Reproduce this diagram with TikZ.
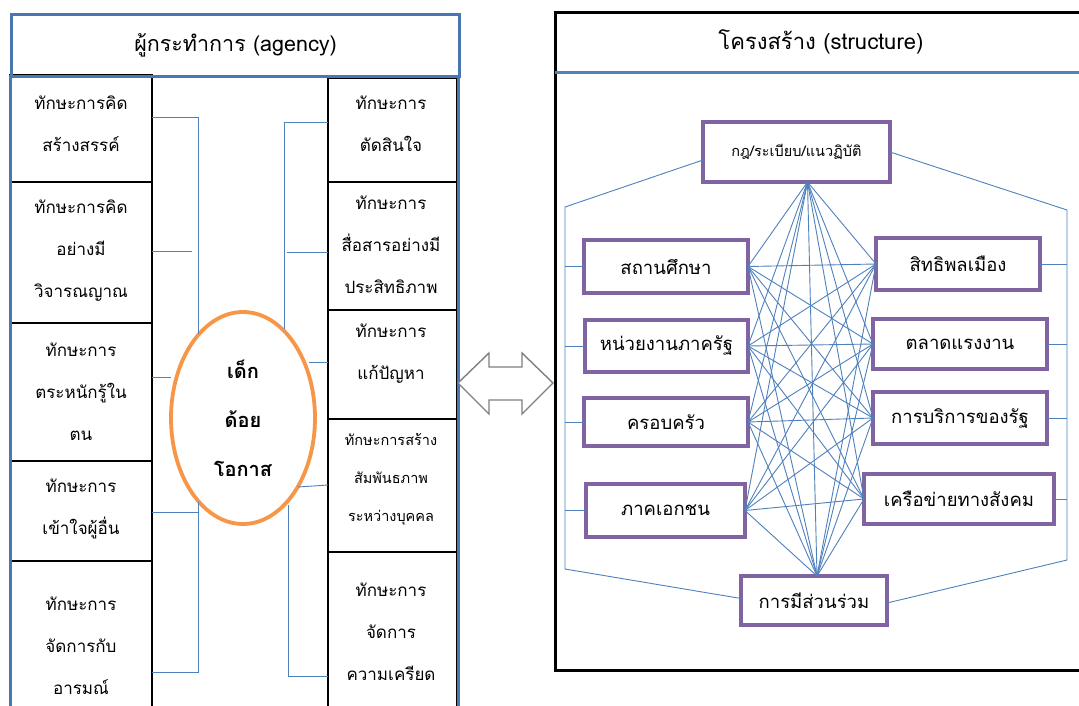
\documentclass[tikz,border=0pt]{standalone}
\usepackage{fontspec}
\setmainfont[Script=Thai]{Loma}
\usetikzlibrary{shapes.geometric}
\definecolor{netblue}{HTML}{4F81BD}
\definecolor{frameblue}{HTML}{4A77B4}
\definecolor{boxpurple}{HTML}{8064A2}
\definecolor{elorange}{HTML}{F79646}
\definecolor{arrgray}{HTML}{7F7F7F}
\begin{document}
\begin{tikzpicture}[x=1pt,y=-1pt,
  net/.style={draw=netblue, line width=0.9pt},
  skillbox/.style={draw=black, line width=1.3pt, rectangle, inner sep=0pt, outer sep=0pt, anchor=north west},
  skilltxt/.style={align=center, inner sep=0pt, font=\fontsize{17}{42}\selectfont},
  smalltxt/.style={align=center, inner sep=0pt, font=\fontsize{14.5}{38}\selectfont},
  framebox/.style={draw=frameblue, line width=3pt},
  structbox/.style={draw=boxpurple, line width=3.2pt, rectangle, inner sep=0pt, outer sep=0pt, fill=white, font=\fontsize{18.5}{22}\selectfont}
]
\useasboundingbox (0,0) rectangle (1079,706);
\fill[white] (0,0) rectangle (1079,706);

% ---------- left panel : agency ----------
\node[skillbox, minimum width=142pt, minimum height=107pt] (L1) at (10,75) {};
\node[skillbox, minimum width=142pt, minimum height=141pt] (L2) at (10,182) {};
\node[skillbox, minimum width=142pt, minimum height=138pt] (L3) at (10,323) {};
\node[skillbox, minimum width=142pt, minimum height=100pt] (L4) at (10,461) {};
\node[skillbox, minimum width=142pt, minimum height=170pt] (L5) at (10,561) {};
\node[skillbox, minimum width=129pt, minimum height=104pt] (R1) at (328,78) {};
\node[skillbox, minimum width=129pt, minimum height=128pt] (R2) at (328,182) {};
\node[skillbox, minimum width=129pt, minimum height=109pt] (R3) at (328,310) {};
\node[skillbox, minimum width=129pt, minimum height=133pt] (R4) at (328,419) {};
\node[skillbox, minimum width=129pt, minimum height=170pt] (R5) at (328,552) {};

\node[skilltxt] (L1t) at (81,124) {ทักษะการคิด\\สร้างสรรค์};
\node[skilltxt] (L2t) at (81,251) {ทักษะการคิด\\อย่างมี\\วิจารณญาณ};
\node[skilltxt] (L3t) at (81,392) {ทักษะการ\\ตระหนักรู้ใน\\ตน};
\node[skilltxt] (L4t) at (81,509) {ทักษะการ\\เข้าใจผู้อื่น};
\node[skilltxt] (L5t) at (81,646) {ทักษะการ\\จัดการกับ\\อารมณ์};
\node[skilltxt] (R1t) at (391,124) {ทักษะการ\\ตัดสินใจ};
\node[skilltxt] (R2t) at (391,245) {ทักษะการ\\สื่อสารอย่างมี\\ประสิทธิภาพ};
\node[skilltxt] (R3t) at (391,354) {ทักษะการ\\แก้ปัญหา};
\node[smalltxt] (R4t) at (391,479) {ทักษะการสร้าง\\สัมพันธภาพ\\ระหว่างบุคคล};
\node[skilltxt] (R5t) at (391,632) {ทักษะการ\\จัดการ\\ความเครียด};

% title and frame
\node[framebox, rectangle, minimum width=448pt, minimum height=62pt, inner sep=0pt, anchor=north west,
      font=\fontsize{21.5}{24}\selectfont] (AT) at (10,13) {ผู้กระทำการ (agency)};
\coordinate (fl0) at (10,75); \coordinate (fl1) at (10,706);
\coordinate (fr0) at (458,75); \coordinate (fr1) at (458,706);
\draw[framebox] (fl0) -- (fl1);
\draw[framebox] (fr0) -- (fr1);

% centre ellipse
\node[ellipse, draw=elorange, line width=3.8pt, fill=white, minimum width=144pt, minimum height=212pt,
      align=center, font=\bfseries\fontsize{20}{49}\selectfont] (E) at (243,418) {เด็ก\\ด้อย\\โอกาส};

% left bracket connectors
\coordinate (eL1) at (198,334);
\coordinate (eL2) at (192,251);
\coordinate (eL3) at (171,377);
\coordinate (eL4) at (198,502);
\coordinate (cL4) at (198,512);
\coordinate (cL5) at (198,672);
\draw[net] ([yshift=11.5pt]L1.east) -| (eL1);
\draw[net] ([yshift=1.5pt]L2.east) -- (eL2);
\draw[net] ([yshift=15pt]L3.east) -- (eL3);
\draw[net] ([yshift=-1pt]L4.east) -- (cL4);
\draw[net] (eL4) -- (cL5) -- ([yshift=-26pt]L5.east);

% right bracket connectors
\coordinate (eR1) at (284,329);
\coordinate (eR2) at (287,252);
\coordinate (eR3) at (309,362);
\coordinate (eR4) at (298,487);
\coordinate (eR5) at (288,505);
\draw[net] ([yshift=8pt]R1.west) -| (eR1);
\draw[net] ([yshift=-6pt]R2.west) -- (eR2);
\draw[net] ([yshift=2.5pt]R3.west) -- (eR3);
\draw[net] ([yshift=0.5pt]R4.west) -- (eR4);
\draw[net] ([yshift=-39pt]R5.west) -| (eR5);

% double arrow
\draw[arrgray, line width=1.4pt, fill=white, line join=miter]
  (458,383) -- (489,353) -- (489,367) -- (522,367) -- (522,353) -- (553,383)
  -- (522,414) -- (522,400) -- (489,400) -- (489,414) -- cycle;

% ---------- right panel : structure ----------
\draw[black, line width=3pt] (1090,13) -- (555,13) -- (555,670) -- (1090,670);
\coordinate (st0) at (555,73); \coordinate (st1) at (1090,73);
\draw[netblue, line width=3pt] (st0) -- (st1);
\node[font=\fontsize{22}{24}\selectfont] (ST) at (821,42) {โครงสร้าง (structure)};

\node[structbox, minimum width=187pt, minimum height=60pt, font=\fontsize{14.5}{17}\selectfont] (T) at (796.5,152) {กฎ/ระเบียบ/แนวฏิบัติ};
\node[structbox, minimum width=164pt, minimum height=53pt] (S1) at (666,266.5) {สถานศึกษา};
\node[structbox, minimum width=163pt, minimum height=52pt] (S2) at (666.5,346) {หน่วยงานภาครัฐ};
\node[structbox, minimum width=164pt, minimum height=48pt] (S3) at (666,422) {ครอบครัว};
\node[structbox, minimum width=159pt, minimum height=53pt] (S4) at (665.5,510.5) {ภาคเอกชน};
\node[structbox, minimum width=164pt, minimum height=52pt] (P1) at (958,264) {สิทธิพลเมือง};
\node[structbox, minimum width=174pt, minimum height=50pt] (P2) at (960,344) {ตลาดแรงงาน};
\node[structbox, minimum width=174pt, minimum height=52pt] (P3) at (960,418) {การบริการของรัฐ};
\node[structbox, minimum width=190pt, minimum height=50pt] (P4) at (959,499) {เครือข่ายทางสังคม};
\node[structbox, minimum width=146pt, minimum height=49pt] (B) at (814,600.5) {การมีส่วนร่วม};

% network
\coordinate (th) at ([xshift=11pt]T.south);
\coordinate (bh) at ([xshift=3pt]B.north);
\foreach \l in {S1,S2,S3,S4}{
  \draw[net] (th) -- (\l.east);
  \draw[net] (bh) -- (\l.east);
  \foreach \r in {P1,P2,P3,P4}{\draw[net] (\l.east) -- (\r.west);}
}
\foreach \r in {P1,P2,P3,P4}{
  \draw[net] (th) -- (\r.west);
  \draw[net] (bh) -- (\r.west);
}
\draw[net] (th) -- (bh);

% outer hexagon
\coordinate (hl0) at (565,207); \coordinate (hl1) at (565,569);
\coordinate (hr0) at (1067,210); \coordinate (hr1) at (1067,560);
\draw[net] ([yshift=-8pt]T.west) -- (hl0) -- (hl1) -- ([yshift=2pt]B.west);
\draw[net] (T.east) -- (hr0) -- (hr1) -- ([yshift=-2.5pt]B.east);
\foreach \l in {S1,S2,S3,S4}{\draw[net] (\l.west -| hl0) -- (\l.west);}
\foreach \r in {P1,P2,P3,P4}{\draw[net] (\r.east) -- (\r.east -| hr0);}
\end{tikzpicture}
\end{document}
